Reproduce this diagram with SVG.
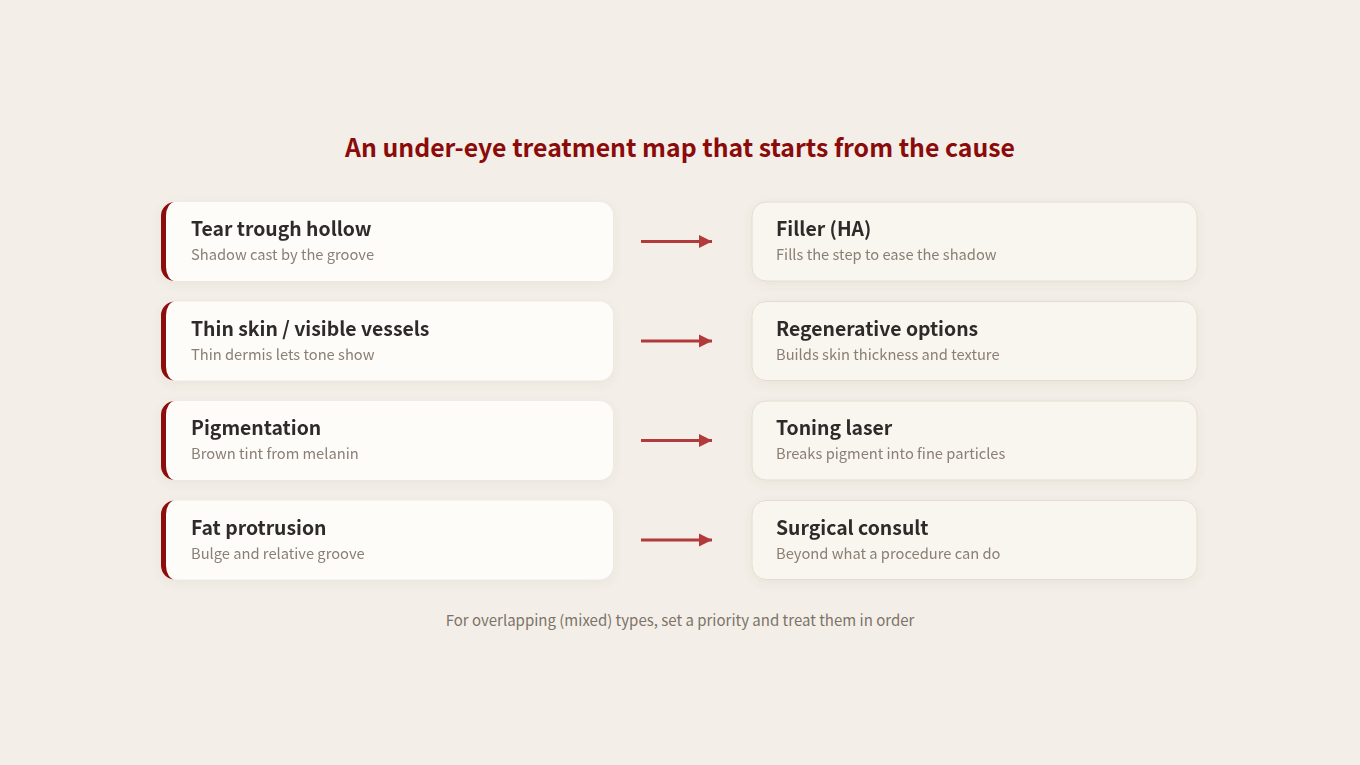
<svg xmlns="http://www.w3.org/2000/svg" width="1360" height="765" viewBox="0 0 1360 765">
<defs>
<style>
.bg{fill:#f3efe8}
.title{font-family:"Noto Sans CJK KR","Noto Sans",sans-serif;font-weight:700;font-size:24.8px;fill:#8b0a0a}
.h{font-family:"Noto Sans CJK KR","Noto Sans",sans-serif;font-weight:700;font-size:19.4px;fill:#2e2c2a}
.s{font-family:"Noto Sans CJK KR","Noto Sans",sans-serif;font-size:14.7px;fill:#8a7f74}
.foot{font-family:"Noto Sans CJK KR","Noto Sans",sans-serif;font-size:15px;fill:#7d7368}
.lc{fill:#fefcf9}
.bar{fill:#8b0a0a}
.rc{fill:#f9f5ef;stroke:#e6dccd;stroke-width:1}
.arr{stroke:#b23a3a;stroke-width:3;fill:none}
</style>
<filter id="sh" x="-10%" y="-20%" width="120%" height="150%">
<feDropShadow dx="0" dy="3" stdDeviation="5" flood-color="#6b5a40" flood-opacity="0.08"/>
</filter>
<marker id="ah" viewBox="0 0 10 10" refX="10" refY="5" markerWidth="4.5" markerHeight="4.5" orient="auto" markerUnits="strokeWidth">
<path d="M0,0 L10,5 L0,10 z" fill="#b23a3a"/>
</marker>
<path id="barp" d="M175,0 A14,14 0 0 0 161,14 V65 A14,14 0 0 0 175,79 A9,14 0 0 1 166,65 V14 A9,14 0 0 1 175,0 Z"/>
</defs>
<rect class="bg" x="0" y="0" width="1360" height="765"/>
<text class="title" x="680" y="157" text-anchor="middle">An under-eye treatment map that starts from the cause</text>

<g id="cause-1" filter="url(#sh)">
<rect class="lc" x="161" y="202" width="452" height="79" rx="14"/>
<use href="#barp" class="bar" y="202"/>
<text class="h" x="191" y="236">Tear trough hollow</text>
<text class="s" x="191" y="260">Shadow cast by the groove</text>
</g>
<g id="cause-2" filter="url(#sh)">
<rect class="lc" x="161" y="301.5" width="452" height="79" rx="14"/>
<use href="#barp" class="bar" y="301.5"/>
<text class="h" x="191" y="335.5">Thin skin / visible vessels</text>
<text class="s" x="191" y="359.5">Thin dermis lets tone show</text>
</g>
<g id="cause-3" filter="url(#sh)">
<rect class="lc" x="161" y="401" width="452" height="79" rx="14"/>
<use href="#barp" class="bar" y="401"/>
<text class="h" x="191" y="435">Pigmentation</text>
<text class="s" x="191" y="459">Brown tint from melanin</text>
</g>
<g id="cause-4" filter="url(#sh)">
<rect class="lc" x="161" y="500.5" width="452" height="79" rx="14"/>
<use href="#barp" class="bar" y="500.5"/>
<text class="h" x="191" y="534.5">Fat protrusion</text>
<text class="s" x="191" y="558.5">Bulge and relative groove</text>
</g>

<g id="treat-1" filter="url(#sh)">
<rect class="rc" x="752" y="202" width="445" height="79" rx="14"/>
<text class="h" x="776" y="236">Filler (HA)</text>
<text class="s" x="776" y="260">Fills the step to ease the shadow</text>
</g>
<g id="treat-2" filter="url(#sh)">
<rect class="rc" x="752" y="301.5" width="445" height="79" rx="14"/>
<text class="h" x="776" y="335.5">Regenerative options</text>
<text class="s" x="776" y="359.5">Builds skin thickness and texture</text>
</g>
<g id="treat-3" filter="url(#sh)">
<rect class="rc" x="752" y="401" width="445" height="79" rx="14"/>
<text class="h" x="776" y="435">Toning laser</text>
<text class="s" x="776" y="459">Breaks pigment into fine particles</text>
</g>
<g id="treat-4" filter="url(#sh)">
<rect class="rc" x="752" y="500.5" width="445" height="79" rx="14"/>
<text class="h" x="776" y="534.5">Surgical consult</text>
<text class="s" x="776" y="558.5">Beyond what a procedure can do</text>
</g>

<g id="connectors">
<line class="arr" x1="641" y1="241.5" x2="712" y2="241.5" marker-end="url(#ah)"/>
<line class="arr" x1="641" y1="341" x2="712" y2="341" marker-end="url(#ah)"/>
<line class="arr" x1="641" y1="440.5" x2="712" y2="440.5" marker-end="url(#ah)"/>
<line class="arr" x1="641" y1="540" x2="712" y2="540" marker-end="url(#ah)"/>
</g>

<text class="foot" x="680" y="626" text-anchor="middle">For overlapping (mixed) types, set a priority and treat them in order</text>
</svg>
